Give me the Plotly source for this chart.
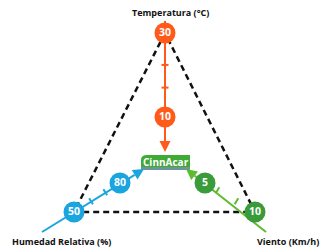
import plotly.graph_objects as go
import numpy as np

# ---- data ----
axis_names = ["Temperatura (°C)", "Humedad Relativa (%)", "Viento (Km/h)"]
temp_values = [30, 10]
hum_values = [50, 80]
wind_values = [10, 5]
brand = "CinnAcar"

# ---- geometry (layout, in pixel-like coordinates) ----
W, H = 330, 249
top_v = (165, 33)
left_v = (74, 212)
right_v = (255, 212)

ORANGE = "#FF5A1A"
BLUE = "#1BA5DF"
GREEN_C = "#3A9B3A"
GREEN_L = "#5DBB2F"
FONT = "Open Sans"

def lerp(p, q, t):
    return (p[0] + (q[0] - p[0]) * t, p[1] + (q[1] - p[1]) * t)

axes = [
    dict(vals=temp_values, p0=top_v, p1=(165, 117), start=(165, 21), end=(165, 152), col=ORANGE, ccol=ORANGE,
         ticks=[0.38, 0.65]),
    dict(vals=hum_values, p0=left_v, p1=(120, 183), start=(42, 232), end=(144, 169), col=BLUE, ccol=BLUE,
         ticks=[0.37, 0.68]),
    dict(vals=wind_values, p0=right_v, p1=(205, 183), start=(266, 232), end=(186, 169), col=GREEN_L, ccol=GREEN_C,
         ticks=[0.37, 0.75]),
]

fig = go.Figure()

# dashed triangle
tri_x = [top_v[0], left_v[0], right_v[0], top_v[0]]
tri_y = [top_v[1], left_v[1], right_v[1], top_v[1]]
fig.add_trace(go.Scatter(x=tri_x, y=tri_y, mode="lines",
                         line=dict(color="#111111", width=2.5, dash="6px,4px"),
                         hoverinfo="skip", showlegend=False))

annotations = []
shapes = []
# axis lines first (below circles)
for a in axes:
    s, e = np.array(a["start"], float), np.array(a["end"], float)
    d = (e - s) / np.linalg.norm(e - s)
    mid = e - d * 12
    fig.add_trace(go.Scatter(x=[s[0], mid[0] + d[0]], y=[s[1], mid[1] + d[1]], mode="lines",
                             line=dict(color=a["col"], width=2), hoverinfo="skip", showlegend=False))
    annotations.append(dict(x=e[0], y=e[1], ax=mid[0], ay=mid[1],
                            xref="x", yref="y", axref="x", ayref="y", text="", showarrow=True,
                            arrowhead=2, arrowsize=1.1, arrowwidth=2, arrowcolor=a["col"]))
    p0, p1 = a["p0"], a["p1"]
    dd = np.array(p1, float) - np.array(p0, float)
    dd = dd / np.linalg.norm(dd)
    n = np.array([-dd[1], dd[0]])
    for t in a["ticks"]:
        c = np.array(lerp(p0, p1, t))
        ts = c + n * 3.5
        te = c - n * 3.5
        shapes.append(dict(type="line", x0=ts[0], y0=ts[1], x1=te[0], y1=te[1], xref="x", yref="y",
                           line=dict(color=a["col"], width=2), layer="below"))

# value circles on top
for a in axes:
    pts = [a["p0"], a["p1"]]
    fig.add_trace(go.Scatter(x=[p[0] for p in pts], y=[p[1] for p in pts], mode="markers+text",
                             marker=dict(size=21, color=a["ccol"], line=dict(width=0)),
                             text=[f"<b>{v}</b>" for v in a["vals"]], textposition="middle center",
                             textfont=dict(family=FONT, size=10.5, color="white"),
                             hoverinfo="skip", showlegend=False))

# logo badge
shapes.append(dict(type="rect", x0=141, x1=190, y0=166, y1=170, xref="x", yref="y",
                   fillcolor="#6C959B", line=dict(width=0), layer="above"))
shapes.append(dict(type="path", path="M 141 167 L 141 160 Q 141 155 147 155 L 190 155 L 190 167 Z",
                   xref="x", yref="y", fillcolor="#3FAA35", line=dict(width=0), layer="above"))
annotations.append(dict(x=165.5, y=162, xref="x", yref="y", text="<b>" + brand + "</b>", showarrow=False,
                        font=dict(family=FONT, size=10, color="white")))

# axis labels
annotations.append(dict(x=170, y=12, xref="x", yref="y", text="<b>" + axis_names[0] + "</b>", showarrow=False,
                        font=dict(family=FONT, size=9, color="#111111")))
annotations.append(dict(x=61, y=241, xref="x", yref="y", text="<b>" + axis_names[1] + "</b>", showarrow=False,
                        font=dict(family=FONT, size=9, color="#111111")))
annotations.append(dict(x=288, y=241, xref="x", yref="y", text="<b>" + axis_names[2] + "</b>", showarrow=False,
                        font=dict(family=FONT, size=9, color="#111111")))

fig.update_layout(width=W, height=H, margin=dict(l=0, r=0, t=0, b=0),
                  paper_bgcolor="white", plot_bgcolor="white",
                  xaxis=dict(range=[0, W], visible=False, fixedrange=True),
                  yaxis=dict(range=[H, 0], visible=False, fixedrange=True),
                  annotations=annotations, shapes=shapes)

fig.write_html("out.html", config={"displayModeBar": False},
               post_script="document.body.style.margin='0';document.body.style.overflow='hidden';")
